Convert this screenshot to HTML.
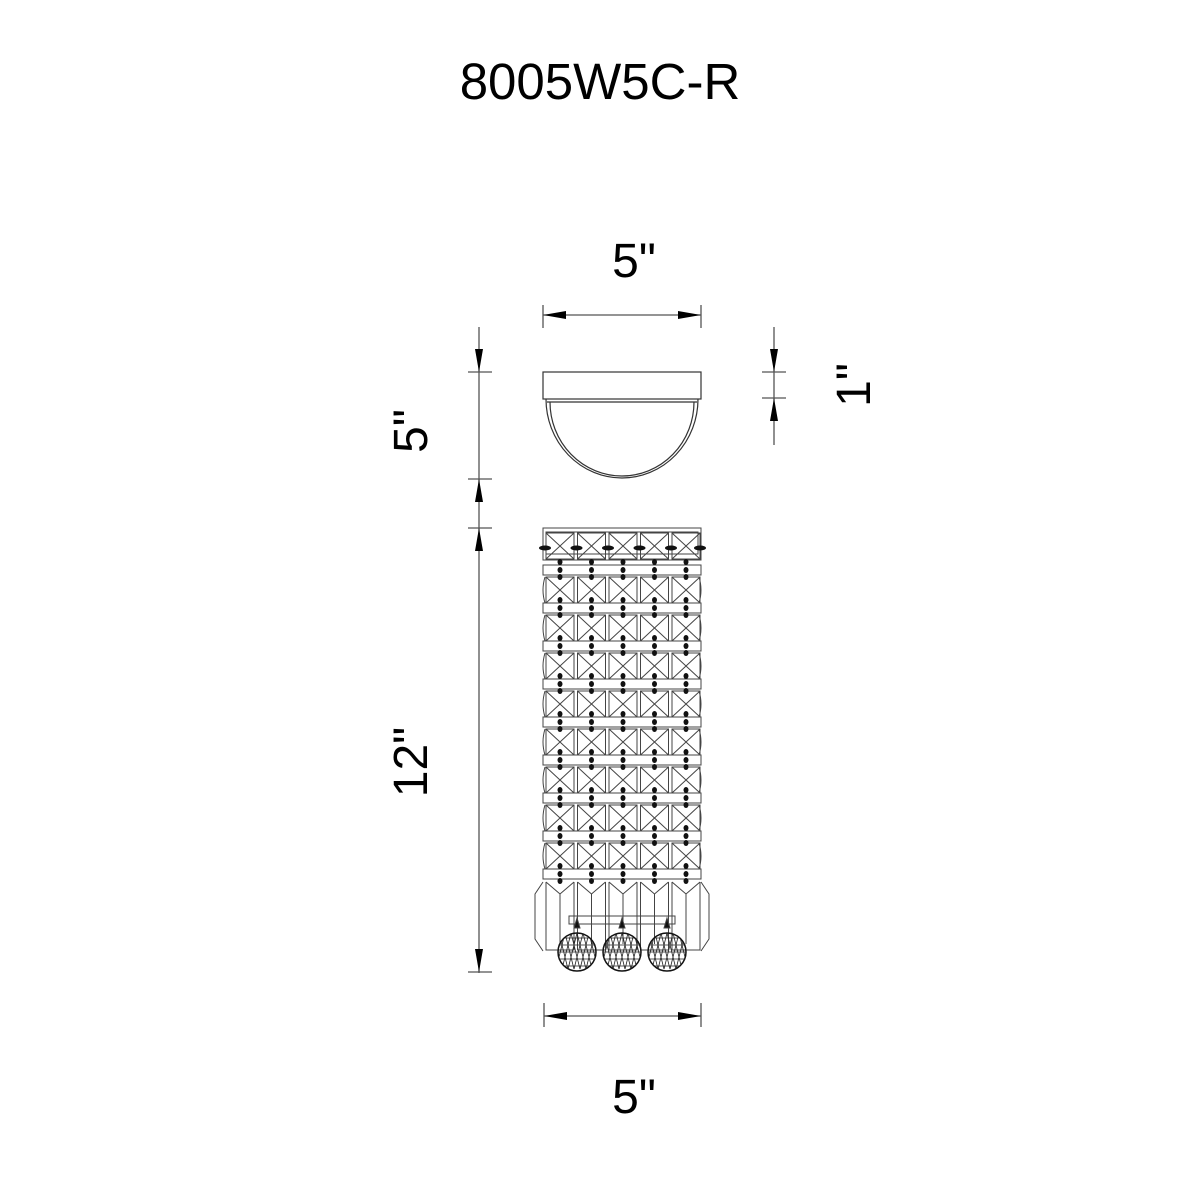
<!DOCTYPE html>
<html><head><meta charset="utf-8"><style>
html,body{margin:0;padding:0;background:#fff;}
svg{display:block;}
text{font-family:"Liberation Sans",Arial,sans-serif;fill:#000;}
</style></head><body>
<svg width="1200" height="1200" viewBox="0 0 1200 1200" xmlns="http://www.w3.org/2000/svg">
<text x="600" y="99" font-size="51" text-anchor="middle">8005W5C-R</text>
<text x="634" y="277" font-size="48" text-anchor="middle">5"</text>
<text x="634" y="1113" font-size="48" text-anchor="middle">5"</text>
<text transform="translate(427,431) rotate(-90)" font-size="48" text-anchor="middle">5"</text>
<text transform="translate(427,762) rotate(-90)" font-size="48" text-anchor="middle">12"</text>
<text transform="translate(870,385) rotate(-90)" font-size="48" text-anchor="middle">1"</text>

<g stroke="#555" stroke-width="1.3" fill="none">
  <!-- top width dim -->
  <line x1="543" y1="305" x2="543" y2="328"/><line x1="701" y1="305" x2="701" y2="328"/>
  <line x1="543" y1="315" x2="701" y2="315"/>
  <!-- bottom width dim -->
  <line x1="544" y1="1003" x2="544" y2="1027"/><line x1="701" y1="1003" x2="701" y2="1027"/>
  <line x1="544" y1="1016" x2="701" y2="1016"/>
  <!-- left dims -->
  <line x1="479" y1="327" x2="479" y2="973"/>
  <line x1="468" y1="372" x2="492" y2="372"/>
  <line x1="468" y1="479" x2="492" y2="479"/>
  <line x1="468" y1="528" x2="492" y2="528"/>
  <line x1="468" y1="972" x2="492" y2="972"/>
  <!-- right 1" dim -->
  <line x1="774" y1="327" x2="774" y2="445"/>
  <line x1="762" y1="372" x2="786" y2="372"/>
  <line x1="762" y1="398" x2="786" y2="398"/>
</g>
<g fill="#000">
  <polygon points="543,315 566,311 566,319"/><polygon points="701,315 678,311 678,319"/>
  <polygon points="544,1016 567,1012 567,1020"/><polygon points="701,1016 678,1012 678,1020"/>
  <polygon points="479,372 475,349 483,349"/>
  <polygon points="479,479 475,502 483,502"/>
  <polygon points="479,528 475,551 483,551"/>
  <polygon points="479,972 475,949 483,949"/>
  <polygon points="774,372 770,349 778,349"/>
  <polygon points="774,398 770,421 778,421"/>
</g>

<!-- canopy -->
<g stroke="#333" stroke-width="1.2" fill="none">
  <rect x="543" y="372" width="158" height="27"/>
  <line x1="547" y1="402" x2="697" y2="402"/>
  <path d="M546,399 A76,79 0 0 0 698,399"/>
  <path d="M550,402 A72,74 0 0 0 694,402"/>
</g>

<!-- fixture body -->
<g stroke="#444" stroke-width="1" fill="none" id="body">
  <rect x="543" y="528" width="158" height="32"/>
  <rect x="546" y="532" width="152" height="22"/>
</g>
<g id="grid" stroke="#444" stroke-width="1" fill="none"></g>
<g id="beads" fill="#111"></g>
<script>
(function(){
var ns="http://www.w3.org/2000/svg";
var g=document.getElementById('grid'),b=document.getElementById('beads');
function el(t,a,p){var e=document.createElementNS(ns,t);for(var k in a)e.setAttribute(k,a[k]);p.appendChild(e);return e;}
var xs=[546,577.5,609,640.5,672];
// top band squares
xs.forEach(function(x){el('rect',{x:x,y:533,width:28,height:26},g);el('path',{d:'M'+x+',533 l28,26 M'+(x+28)+',533 l-28,26'},g);
 el('ellipse',{cx:x-1,cy:548,rx:6,ry:2.5},b);});
el('ellipse',{cx:700,cy:548,rx:6,ry:2.5},b);
// bars and rows
for(var r=0;r<9;r++){
  var by=565+r*38;
  el('rect',{x:543,y:by,width:158,height:10},g);
  xs.forEach(function(x){var cx=x+14;el('ellipse',{cx:cx,cy:by-3,rx:2.5,ry:3},b);el('ellipse',{cx:cx,cy:by+5,rx:2.5,ry:3},b);el('ellipse',{cx:cx,cy:by+12,rx:2.5,ry:3},b);});
  if(r<8){
    var y=by+12;
    xs.forEach(function(x){el('rect',{x:x,y:y,width:28,height:26},g);el('path',{d:'M'+x+','+y+' l28,26 M'+(x+28)+','+y+' l-28,26'},g);});
    el('path',{d:'M545,'+y+' q-4,13 0,26 M699,'+y+' q4,13 0,26'},g);
  }
}
// bottom prisms
var py=882;
xs.forEach(function(x){el('path',{d:'M'+x+','+py+' l14,12 l14,-12 M'+(x+14)+','+(py+12)+' v50 M'+x+','+py+' v68 h28 v-68'},g);});
el('path',{d:'M543,'+py+' l-8,12 v45 l8,12 M701,'+py+' l8,12 v45 l-8,12'},g);
el('rect',{x:569,y:916,width:106,height:8},g);
// balls
[577,622,667].forEach(function(cx){
  var cy=952,r=19;
  el('circle',{cx:cx,cy:cy,r:r,'stroke-width':1.5,stroke:'#111'},g);
  el('path',{d:'M'+cx+',918 l-3,10 h6 z',fill:'#111'},g);
  var d='';
  for(var i=-2;i<=2;i++){var yy=cy+i*7;var w=Math.sqrt(r*r-(i*7)*(i*7));d+='M'+(cx-w)+','+yy+' H'+(cx+w)+' ';}
  for(var j=-3;j<=3;j++){var xx=cx+j*6;d+='M'+xx+','+(cy-r)+' L'+(xx+9)+','+(cy+r*0.9)+' M'+xx+','+(cy-r)+' L'+(xx-9)+','+(cy+r*0.9)+' ';}
  var cp=el('clipPath',{id:'c'+cx},g);el('circle',{cx:cx,cy:cy,r:r},cp);
  el('path',{d:d,'clip-path':'url(#c'+cx+')',stroke:'#222','stroke-width':0.8},g);
});
})();
</script>
</svg>
</body></html>
